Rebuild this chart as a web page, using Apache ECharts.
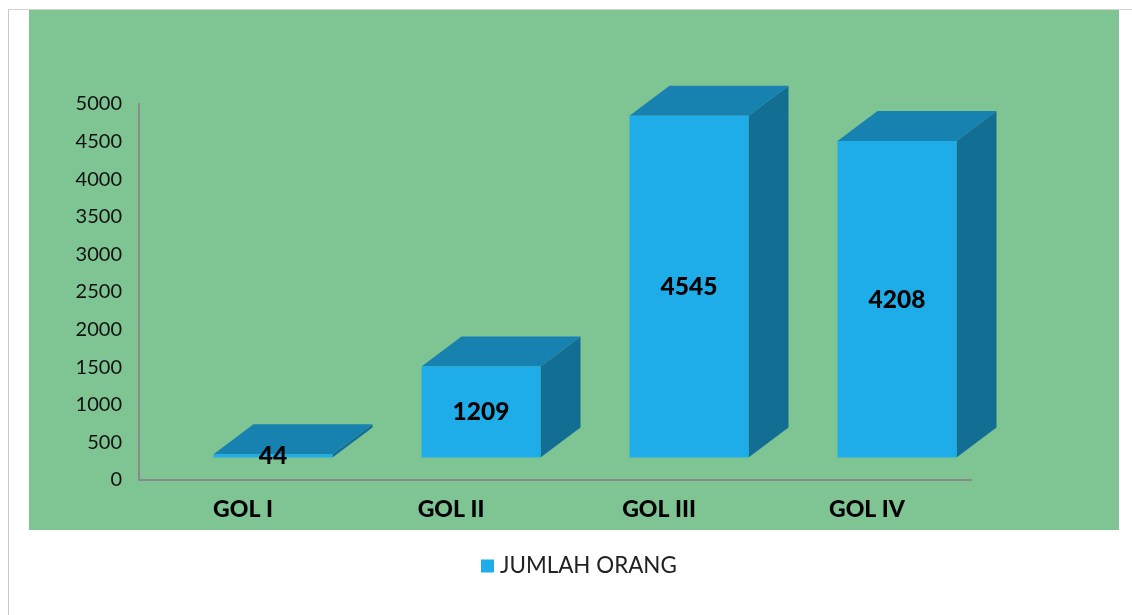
<!DOCTYPE html>
<html>
<head>
<meta charset="utf-8">
<style>html,body{margin:0;padding:0;background:#fff}#c{width:1132px;height:615px}</style>
<script src="https://cdn.jsdelivr.net/npm/echarts@6/dist/echarts.min.js"></script>
</head>
<body>
<div id="c"></div>
<script>
const categories = ['GOL I', 'GOL II', 'GOL III', 'GOL IV'];
const jumlahOrang = [44, 1209, 4545, 4208];
const yTicks = { min: 0, max: 5000, interval: 500 };
const seriesName = 'JUMLAH ORANG';

const FONT = 'Lato';
const FRONT = '#1eade8', TOP = '#1781b0', SIDE = '#126f93';
const BAR_W = 119, DX = 40, DY = 30, SHIFT_X = 30, SHIFT_Y = 22.5;

const chart = echarts.init(document.getElementById('c'), null, { renderer: 'canvas' });
chart.setOption({
  animation: false,
  backgroundColor: '#fff',
  graphic: [
    { type: 'rect', z: -10, shape: { x: 29, y: 10, width: 1090, height: 520 }, style: { fill: '#7fc594' } },
    { type: 'rect', z: -9, shape: { x: 8, y: 9, width: 1, height: 606 }, style: { fill: '#c8c8c8' } },
    { type: 'rect', z: -9, shape: { x: 8, y: 9, width: 1124, height: 1 }, style: { fill: '#d4d4d4' } }
  ],
  grid: { left: 139, right: 161, top: 104, bottom: 135 },
  legend: {
    left: 476, top: 550, itemWidth: 13, itemHeight: 13, itemGap: 6,
    icon: 'rect',
    textStyle: { fontFamily: FONT, fontSize: 22.4, color: '#222', padding: [2, 0, 0, 1] },
    data: [seriesName]
  },
  xAxis: {
    type: 'category',
    data: categories,
    axisLine: { lineStyle: { color: '#8a8a8a', width: 2 } },
    axisTick: { show: false },
    axisLabel: { fontFamily: FONT, fontSize: 23, fontWeight: 900, color: '#000', margin: 18 }
  },
  yAxis: {
    type: 'value',
    min: yTicks.min, max: yTicks.max, interval: yTicks.interval,
    axisLine: { show: true, lineStyle: { color: '#8a8a8a', width: 2 } },
    axisTick: { show: false },
    splitLine: { show: false },
    axisLabel: {
      fontFamily: FONT, fontSize: 20, color: '#111', margin: 17, padding: [4, 0, 0, 0],
      formatter: v => String(v)
    }
  },
  series: [{
    type: 'custom',
    name: seriesName,
    itemStyle: { color: FRONT },
    encode: { x: 0, y: 1 },
    data: jumlahOrang.map((v, i) => [i, v]),
    clip: false,
    renderItem(params, api) {
      const value = api.value(1);
      const top = api.coord([api.value(0), value]);
      const base = api.coord([api.value(0), 0]);
      const x0 = top[0] + SHIFT_X - BAR_W / 2, x1 = x0 + BAR_W;
      const yT = top[1] - SHIFT_Y, yB = base[1] - SHIFT_Y;
      const poly = (points, fill) => ({ type: 'polygon', shape: { points }, style: { fill } });
      return {
        type: 'group',
        children: [
          poly([[x1, yT], [x1 + DX, yT - DY], [x1 + DX, yB - DY], [x1, yB]], SIDE),
          poly([[x0, yT], [x0 + DX, yT - DY], [x1 + DX, yT - DY], [x1, yT]], TOP),
          poly([[x0, yT], [x1, yT], [x1, yB], [x0, yB]], FRONT),
          {
            type: 'text',
            z2: 10,
            style: {
              text: String(value),
              x: (x0 + x1) / 2,
              y: (yT + yB) / 2 + 0.5,
              align: 'center',
              verticalAlign: 'middle',
              fontFamily: FONT,
              fontSize: 24.5,
              fontWeight: 900,
              fill: '#000'
            }
          }
        ]
      };
    }
  }]
});
</script>
</body>
</html>
